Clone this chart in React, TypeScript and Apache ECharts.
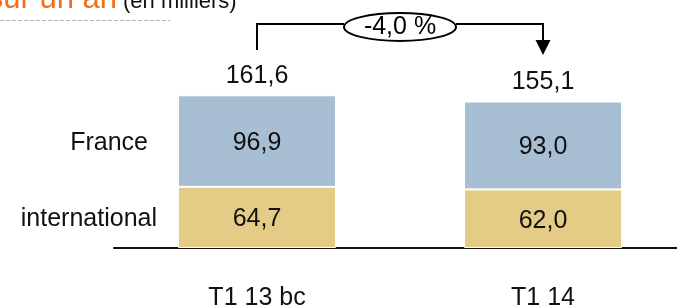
import React, { useEffect, useRef } from "react";
import * as echarts from "echarts";

const categories = ["T1 13 bc", "T1 14"];
const seriesNames = ["international", "France"];
const internationalValues = [64.7, 62.0];
const franceValues = [96.9, 93.0];
const totals = [161.6, 155.1];
const changeLabel = "-4,0 %";
const titleMain = "sur un an";
const titleUnit = "(en milliers)";

const FONT = "'Liberation Sans', Helvetica, Arial, sans-serif";
const fmt = (v: number) => v.toFixed(1).replace(".", ",");

export default function App() {
  const ref = useRef<HTMLDivElement>(null);
  useEffect(() => {
    if (!ref.current) return;
    const chart = echarts.init(ref.current, null, { renderer: "svg" });
    chart.setOption({
      animation: false,
      grid: { left: 114, right: 0, top: 59, bottom: 57 },
      xAxis: {
        type: "category",
        data: categories,
        axisLine: { show: true, lineStyle: { color: "#111", width: 2 } },
        axisTick: { show: false },
        axisLabel: { color: "#111", fontSize: 25, fontFamily: FONT, margin: 35 },
      },
      yAxis: { type: "value", min: 0, max: 200, show: false, splitLine: { show: false } },
      series: [
        {
          name: seriesNames[0],
          type: "bar",
          stack: "s",
          barWidth: 158,
          data: internationalValues,
          itemStyle: { color: "#E5CC86", borderColor: "#fff", borderWidth: 1 },
          label: { show: true, position: "inside", color: "#111", fontSize: 25, fontFamily: FONT, formatter: (p: any) => fmt(p.value) },
        },
        {
          name: seriesNames[1],
          type: "bar",
          stack: "s",
          barWidth: 158,
          data: franceValues,
          itemStyle: { color: "#A8BED2", borderColor: "#fff", borderWidth: 1 },
          label: { show: true, position: "inside", color: "#111", fontSize: 25, fontFamily: FONT, formatter: (p: any) => fmt(p.value) },
        },
        {
          type: "scatter",
          data: totals,
          symbolSize: 1,
          itemStyle: { color: "rgba(0,0,0,0)", opacity: 1 },
          label: { show: true, position: "top", distance: 8, color: "#111", fontSize: 25, fontFamily: FONT, formatter: (p: any) => fmt(p.value) },
        },
      ],
    });

    const p1 = chart.convertToPixel({ gridIndex: 0 }, [0, 0]) as number[];
    const p2 = chart.convertToPixel({ gridIndex: 0 }, [1, 0]) as number[];
    const yFr = (chart.convertToPixel({ gridIndex: 0 }, [0, internationalValues[0] + franceValues[0] / 2]) as number[])[1];
    const yInt = (chart.convertToPixel({ gridIndex: 0 }, [0, internationalValues[0] / 2]) as number[])[1];
    const x1 = p1[0];
    const x2 = p2[0];
    const mid = (x1 + x2) / 2;
    const rx = 56;
    const lineY = 24;
    const stroke = { stroke: "#000", lineWidth: 2 };

    chart.setOption({
      graphic: [
        { type: "text", x: 117, y: 13, style: { text: titleMain, fill: "#F26E1E", fontSize: 31, fontFamily: FONT, align: "right", verticalAlign: "bottom" } },
        { type: "text", x: 123, y: 11, style: { text: titleUnit, fill: "#111", fontSize: 22, fontFamily: FONT, align: "left", verticalAlign: "bottom" } },
        { type: "line", shape: { x1: 0, y1: 20.5, x2: 170, y2: 20.5 }, style: { stroke: "#b5b5b5", lineWidth: 1, lineDash: [4, 2] } },
        { type: "text", x: 148, y: yFr, style: { text: seriesNames[1], fill: "#111", fontSize: 25, fontFamily: FONT, align: "right", verticalAlign: "middle" } },
        { type: "text", x: 157, y: yInt, style: { text: seriesNames[0], fill: "#111", fontSize: 25, fontFamily: FONT, align: "right", verticalAlign: "middle" } },
        { type: "polyline", shape: { points: [[x1, 50], [x1, lineY], [mid - rx, lineY]] }, style: { ...stroke, fill: null } },
        { type: "polyline", shape: { points: [[mid + rx, lineY], [x2, lineY], [x2, 42]] }, style: { ...stroke, fill: null } },
        { type: "polygon", shape: { points: [[x2 - 7.5, 40], [x2 + 7.5, 40], [x2, 55]] }, style: { fill: "#000" } },
        { type: "ellipse", shape: { cx: mid, cy: 27, rx, ry: 14 }, style: { fill: "#fff", ...stroke } },
        { type: "text", x: mid, y: 25, style: { text: changeLabel, fill: "#000", fontSize: 25, fontFamily: FONT, align: "center", verticalAlign: "middle" } },
      ],
    });

    return () => chart.dispose();
  }, []);
  return <div ref={ref} style={{ position: "fixed", left: 0, top: 0, width: 686, height: 308 }} />;
}
